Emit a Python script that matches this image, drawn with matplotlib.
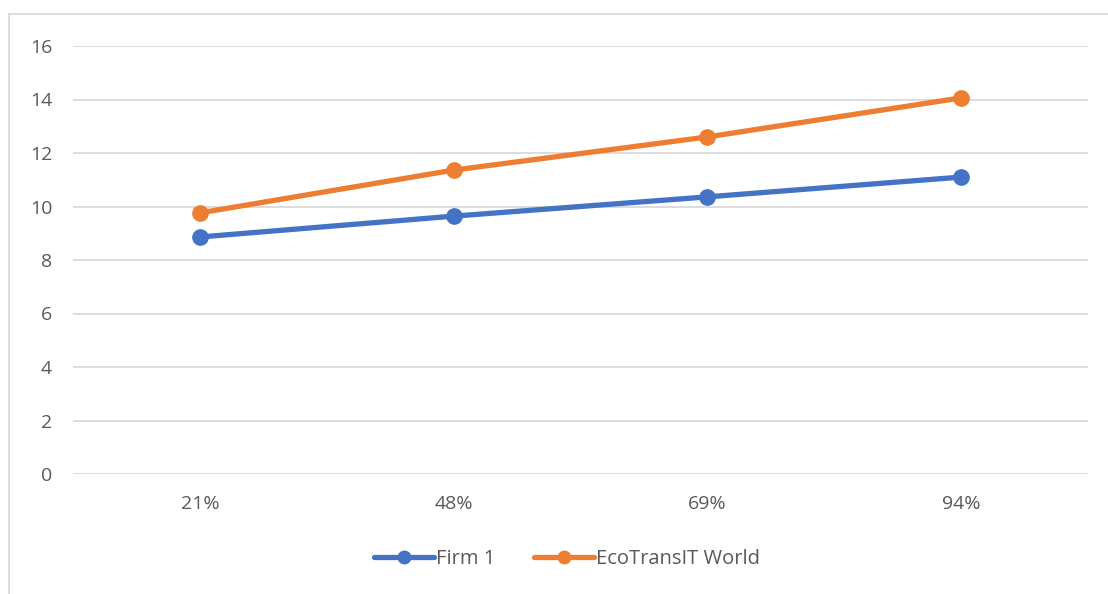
import matplotlib.pyplot as plt
from matplotlib.lines import Line2D

plt.rcParams['font.family'] = ['Open Sans', 'DejaVu Sans']

categories = ['21%', '48%', '69%', '94%']
firm1 = [8.86, 9.64, 10.36, 11.10]
ecotransit = [9.76, 11.36, 12.60, 14.06]

blue = '#4472C4'
orange = '#ED7D31'
text_color = '#595959'

fig = plt.figure(figsize=(11.08, 5.94), dpi=100)
ax = fig.add_axes([73 / 1108, 1 - 474 / 594, (1088 - 73) / 1108, (474 - 46) / 594])

x = range(len(categories))
ax.plot(x, firm1, color=blue, lw=3.8, marker='o', ms=11, label='Firm 1',
        solid_capstyle='round', zorder=3)
ax.plot(x, ecotransit, color=orange, lw=3.8, marker='o', ms=11, label='EcoTransIT World',
        solid_capstyle='round', zorder=3)

ax.set_xlim(-0.5, len(categories) - 0.5)
ax.set_ylim(0, 16)
ax.set_yticks(range(0, 17, 2))
ax.set_xticks(list(x))
ax.set_xticklabels(categories)
ax.grid(axis='y', color='#D9D9D9', lw=1.3)
ax.set_axisbelow(True)
for s in ax.spines.values():
    s.set_visible(False)
ax.tick_params(axis='both', length=0, colors=text_color, labelsize=14)
ax.tick_params(axis='y', pad=15)
ax.tick_params(axis='x', pad=15)

handles = [Line2D([0], [0], color=blue, lw=3.8, marker='o', ms=9, solid_capstyle='round'),
           Line2D([0], [0], color=orange, lw=3.8, marker='o', ms=9, solid_capstyle='round')]
leg = fig.legend(handles, ['Firm 1', 'EcoTransIT World'], loc='center',
                 bbox_to_anchor=(567 / 1108, 1 - 559 / 594), ncol=2, frameon=False,
                 fontsize=14.5, handlelength=3.0, handletextpad=0.1, columnspacing=1.9,
                 labelcolor=text_color)

# outer chart frame (cropped at right and bottom)
fig.add_artist(Line2D([8.5 / 1108, 8.5 / 1108], [0, 1 - 13.5 / 594], color='#D9D9D9', lw=1.3))
fig.add_artist(Line2D([8.5 / 1108, 1], [1 - 13.5 / 594, 1 - 13.5 / 594], color='#D9D9D9', lw=1.3))

fig.savefig('out.png', dpi=100)
